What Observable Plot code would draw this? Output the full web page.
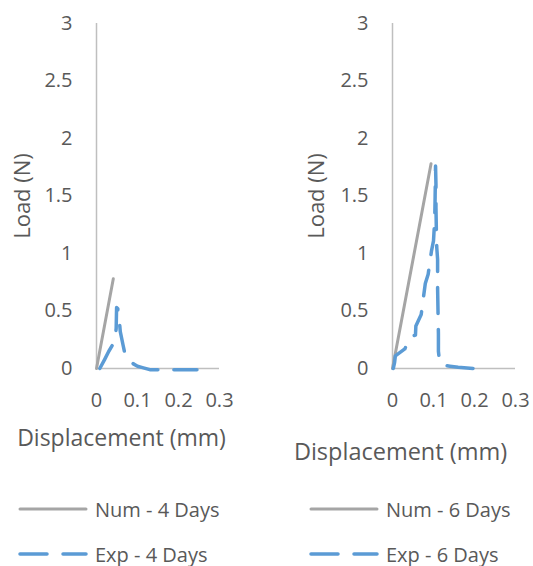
<!DOCTYPE html>
<html>
<head>
<meta charset="utf-8">
<script src="https://cdn.jsdelivr.net/npm/d3@7"></script>
<script src="https://cdn.jsdelivr.net/npm/@observablehq/plot@0.6"></script>
<style>
  html, body { margin: 0; padding: 0; background: #fff; }
  #wrap { position: relative; width: 533px; height: 566px; font-family: "Open Sans", sans-serif; color: #595959; }
  .panel { position: absolute; top: 0; }
  .leg { position: absolute; display: flex; align-items: center; font-size: 20px; white-space: nowrap; }
  .leg svg { display: block; margin-right: 7px; }
</style>
</head>
<body>
<div id="wrap"></div>
<script>
// ---- data ----
const xTicks = [0, 0.1, 0.2, 0.3];
const yTicks = [0, 0.5, 1, 1.5, 2, 2.5, 3];

const numX4 = [0, 0.041];
const numY4 = [0, 0.78];
const expX4 = [0.008, 0.02, 0.03, 0.045, 0.048, 0.049, 0.052, 0.052, 0.055, 0.058, 0.065, 0.071, 0.079, 0.09, 0.1, 0.11, 0.13, 0.15, 0.2, 0.245];
const expY4 = [0.0, 0.08, 0.15, 0.24, 0.35, 0.53, 0.52, 0.46, 0.45, 0.32, 0.2, 0.1, 0.075, 0.04, 0.02, 0.01, -0.01, -0.01, -0.01, -0.01];

const numX6 = [0, 0.094];
const numY6 = [0, 1.78];
const expX6 = [0.002, 0.005, 0.007, 0.03, 0.04, 0.045, 0.056, 0.057, 0.07, 0.08, 0.087, 0.095, 0.1, 0.103, 0.104, 0.105, 0.106, 0.106, 0.107, 0.108, 0.11, 0.11, 0.111, 0.112, 0.112, 0.115, 0.12, 0.14, 0.16, 0.2, 0.227];
const expY6 = [0.0, 0.05, 0.11, 0.17, 0.25, 0.28, 0.29, 0.37, 0.47, 0.74, 0.82, 1.02, 1.11, 1.3, 1.5, 1.76, 1.6, 1.4, 1.2, 1.05, 0.95, 0.7, 0.5, 0.3, 0.15, 0.05, 0.03, 0.02, 0.01, 0.0, -0.01];

const legendLabels = ["Num - 4 Days", "Exp - 4 Days", "Num - 6 Days", "Exp - 6 Days"];
const xTitle = "Displacement (mm)";
const yTitle = "Load (N)";

// ---- styles ----
const numColor = "#A5A5A5";
const expColor = "#5B9BD5";
const axisColor = "#BFBFBF";
const textColor = "#595959";
const dash = "26,16";

function toPts(xs, ys) { return xs.map((x, i) => ({x, y: ys[i]})); }

function panel(nx, ny, ex, ey, o) {
  return Plot.plot({
    width: o.width, height: 470,
    marginLeft: o.ml, marginRight: o.mr, marginTop: 23, marginBottom: 102,
    x: {domain: [0, 0.3]},
    y: {domain: [0, 3]},
    style: {fontFamily: "Open Sans", fontSize: "20px", color: textColor, background: "transparent", overflow: "visible"},
    marks: [
      Plot.ruleX([0], {stroke: axisColor, strokeWidth: 1.5}),
      Plot.ruleY([0], {stroke: axisColor, strokeWidth: 1.5}),
      Plot.axisX(xTicks, {tickSize: 0, tickPadding: 24, label: null, tickFormat: d => String(d), fill: textColor}),
      Plot.axisY(yTicks, {tickSize: 0, tickPadding: 24, label: null, tickFormat: d => String(d), fill: textColor}),
      Plot.line(toPts(nx, ny), {x: "x", y: "y", stroke: numColor, strokeWidth: 3, strokeLinecap: "round"}),
      Plot.line(toPts(ex, ey), {x: "x", y: "y", stroke: expColor, strokeWidth: 3.5, strokeDasharray: dash, strokeLinecap: "round", strokeLinejoin: "round"}),
      Plot.text([xTitle], {text: d => d, frameAnchor: "bottom", textAnchor: "middle", lineAnchor: "middle", dx: o.xdx, dy: o.xdy, fontSize: o.xfs, fill: textColor}),
      Plot.text([yTitle], {text: d => d, frameAnchor: "left", textAnchor: "middle", lineAnchor: "middle", rotate: -90, dx: o.ydx, fontSize: 22, fill: textColor})
    ]
  });
}

const wrap = document.getElementById("wrap");
const p1 = panel(numX4, numY4, expX4, expY4, {width: 266, ml: 96, mr: 47, xdx: -36.5, xdy: 70, xfs: 23, ydx: -74});
p1.classList.add("panel"); p1.style.left = "0px";
wrap.appendChild(p1);
const p2 = panel(numX6, numY6, expX6, expY6, {width: 267, ml: 126, mr: 18, xdx: -53.5, xdy: 84, xfs: 23.5, ydx: -76});
p2.classList.add("panel"); p2.style.left = "266px";
wrap.appendChild(p2);

// legend
const legPos = [
  {left: 18, top: 509, color: numColor, dashed: false},
  {left: 18, top: 554, color: expColor, dashed: true},
  {left: 309, top: 509, color: numColor, dashed: false},
  {left: 309, top: 554, color: expColor, dashed: true}
];
legendLabels.forEach((lab, i) => {
  const p = legPos[i];
  const d = document.createElement("div");
  d.className = "leg";
  d.style.left = p.left + "px";
  d.style.top = (p.top - 15) + "px";
  d.style.height = "30px";
  d.innerHTML = `<svg width="70" height="10"><line x1="2" y1="5" x2="68" y2="5" stroke="${p.color}" stroke-width="${p.dashed ? 3.5 : 3}" stroke-linecap="round" ${p.dashed ? 'stroke-dasharray="27,16"' : ''}/></svg><span>${lab}</span>`;
  wrap.appendChild(d);
});
</script>
</body>
</html>
